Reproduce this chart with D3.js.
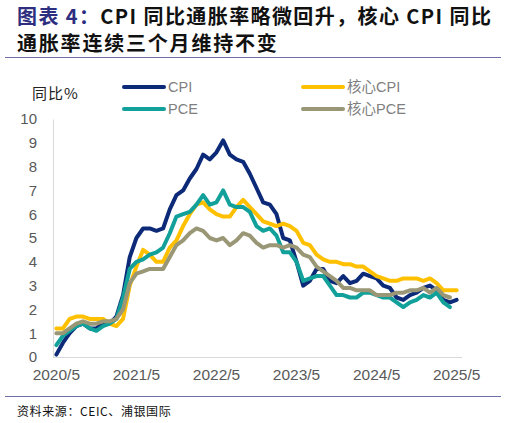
<!DOCTYPE html>
<html>
<head>
<meta charset="utf-8">
<script src="https://cdn.jsdelivr.net/npm/d3@7"></script>
<style>
  html, body { margin: 0; padding: 0; background: #fff; }
  svg { display: block; }
</style>
</head>
<body>
<svg id="chart"></svg>
<script>
// months on the category axis
const months = [
  "2020/5","2020/6","2020/7","2020/8","2020/9","2020/10","2020/11","2020/12",
  "2021/1","2021/2","2021/3","2021/4","2021/5","2021/6","2021/7","2021/8","2021/9","2021/10","2021/11","2021/12",
  "2022/1","2022/2","2022/3","2022/4","2022/5","2022/6","2022/7","2022/8","2022/9","2022/10","2022/11","2022/12",
  "2023/1","2023/2","2023/3","2023/4","2023/5","2023/6","2023/7","2023/8","2023/9","2023/10","2023/11","2023/12",
  "2024/1","2024/2","2024/3","2024/4","2024/5","2024/6","2024/7","2024/8","2024/9","2024/10","2024/11","2024/12",
  "2025/1","2025/2","2025/3","2025/4","2025/5"
];
const xTickLabels = ["2020/5","2021/5","2022/5","2023/5","2024/5","2025/5"];
const yTicks = [0,1,2,3,4,5,6,7,8,9,10];

// YoY %
const cpi = [
  0.1,0.6,1.0,1.3,1.4,1.2,1.2,1.4,
  1.4,1.7,2.6,4.2,5.0,5.4,5.4,5.3,5.4,6.2,6.8,7.0,
  7.5,7.9,8.5,8.3,8.6,9.1,8.5,8.3,8.2,7.7,7.1,6.5,
  6.4,6.0,5.0,4.9,4.0,3.0,3.2,3.7,3.7,3.2,3.1,3.4,
  3.1,3.2,3.5,3.4,3.3,3.0,2.9,2.5,2.4,2.6,2.7,2.9,
  3.0,2.8,2.4,2.3,2.4
];
const coreCpi = [
  1.2,1.2,1.6,1.7,1.7,1.6,1.6,1.6,
  1.4,1.3,1.6,3.0,3.8,4.5,4.3,4.0,4.0,4.6,4.9,5.5,
  6.0,6.4,6.5,6.2,6.0,5.9,5.9,6.3,6.6,6.3,6.0,5.7,
  5.6,5.5,5.6,5.5,5.3,4.8,4.7,4.3,4.1,4.0,4.0,3.9,
  3.9,3.8,3.8,3.6,3.4,3.3,3.2,3.2,3.3,3.3,3.3,3.2,
  3.3,3.1,2.8,2.8,2.8
];
const pce = [
  0.5,0.9,1.1,1.3,1.4,1.2,1.1,1.3,
  1.4,1.6,2.5,3.7,4.0,4.1,4.3,4.4,4.6,5.2,5.9,6.0,
  6.1,6.4,6.8,6.4,6.5,7.0,6.4,6.3,6.3,6.1,5.5,5.3,
  5.4,5.1,4.4,4.4,4.0,3.2,3.3,3.4,3.4,3.0,2.6,2.6,
  2.5,2.5,2.7,2.7,2.6,2.5,2.5,2.3,2.1,2.3,2.4,2.6,
  2.5,2.7,2.3,2.1
];
const corePce = [
  1.0,1.0,1.2,1.4,1.5,1.4,1.4,1.5,
  1.5,1.6,2.0,3.1,3.5,3.6,3.7,3.7,3.7,4.2,4.7,4.9,
  5.2,5.4,5.3,5.0,4.9,5.0,4.7,4.9,5.2,5.1,4.8,4.6,
  4.7,4.7,4.6,4.7,4.6,4.3,4.2,3.8,3.6,3.4,3.2,2.9,
  2.9,2.8,2.8,2.8,2.6,2.6,2.6,2.7,2.7,2.8,2.8,2.9,
  2.7,2.9,2.6,2.5
];

const seriesNames = ["CPI","核心CPI","PCE","核心PCE"];
const seriesValues = [cpi, coreCpi, pce, corePce];
const seriesColors = ["#0d2a78","#ffc000","#12a19a","#999775"];

const width = 506;
const height = 423;

const svg = d3.select("#chart")
  .attr("width", width)
  .attr("height", height)
  .attr("viewBox", `0 0 ${width} ${height}`);

const cjk = "'Noto Sans CJK SC', 'Noto Sans', sans-serif";
const latin = "'Liberation Sans', 'Noto Sans CJK SC', sans-serif";

// title
const title = svg.append("text")
  .attr("x", 17)
  .attr("y", 24)
  .style("font-family", cjk)
  .style("font-weight", 700)
  .style("font-size", "20px")
  .style("letter-spacing", "1.4px");
title.append("tspan").attr("fill", "#2e2e80").text("图表 4：");
title.append("tspan").attr("fill", "#111").text("CPI 同比通胀率略微回升，核心 CPI 同比");

svg.append("text")
  .attr("x", 17)
  .attr("y", 51)
  .attr("fill", "#111")
  .style("font-family", cjk)
  .style("font-weight", 700)
  .style("font-size", "20px")
  .style("letter-spacing", "1.8px")
  .text("通胀率连续三个月维持不变");

// rules top and bottom
svg.append("line")
  .attr("x1", 5).attr("x2", 501)
  .attr("y1", 57.5).attr("y2", 57.5)
  .attr("stroke", "#6e6ea8").attr("stroke-width", 1);
svg.append("line")
  .attr("x1", 5).attr("x2", 501)
  .attr("y1", 396.5).attr("y2", 396.5)
  .attr("stroke", "#6e6ea8").attr("stroke-width", 1);

// source
svg.append("text")
  .attr("x", 17)
  .attr("y", 416)
  .attr("fill", "#111")
  .style("font-family", cjk)
  .style("font-size", "12px")
  .style("letter-spacing", "0.6px")
  .text("资料来源：CEIC、浦银国际");

// scales
const x = d3.scaleBand()
  .domain(months)
  .range([53, 460]);

const y = d3.scaleLinear()
  .domain([0, 10])
  .range([357, 119]);

const cx = d => x(d) + x.bandwidth() / 2;

// y axis
const yAxis = svg.append("g")
  .attr("transform", "translate(53,0)")
  .call(d3.axisLeft(y).tickValues(yTicks).tickSize(0).tickPadding(16).tickFormat(d3.format("d")));
yAxis.select(".domain").attr("stroke", "#d9d9d9");
yAxis.selectAll("text")
  .attr("fill", "#595959")
  .style("font-family", latin)
  .style("font-size", "15px");

// x axis
const xAxis = svg.append("g")
  .attr("transform", "translate(0,357)")
  .call(d3.axisBottom(x).tickValues(xTickLabels).tickSize(0).tickPadding(12));
xAxis.select(".domain").attr("stroke", "#d9d9d9").attr("d", "M53,0.5H462");
xAxis.selectAll("text")
  .attr("fill", "#595959")
  .style("font-family", latin)
  .style("font-size", "15.5px");

// y-axis title
svg.append("text")
  .attr("x", 32)
  .attr("y", 99)
  .attr("fill", "#222")
  .style("font-family", cjk)
  .style("font-size", "15px")
  .style("letter-spacing", "1px")
  .text("同比%");

// lines
const line = d3.line()
  .x((d, i) => cx(months[i]))
  .y(d => y(d));

svg.append("g")
  .selectAll("path")
  .data(seriesValues)
  .join("path")
  .attr("d", d => line(d))
  .attr("fill", "none")
  .attr("stroke", (d, i) => seriesColors[i])
  .attr("stroke-width", 4)
  .attr("stroke-linejoin", "round")
  .attr("stroke-linecap", "round");

// legend
const legendPos = [
  { x: 124, y: 87 },
  { x: 303, y: 87 },
  { x: 124, y: 109 },
  { x: 303, y: 109 }
];
const legend = svg.append("g")
  .selectAll("g")
  .data(seriesNames)
  .join("g")
  .attr("transform", (d, i) => `translate(${legendPos[i].x},${legendPos[i].y})`);
legend.append("line")
  .attr("x1", 0).attr("x2", 40)
  .attr("stroke", (d, i) => seriesColors[i])
  .attr("stroke-width", 4)
  .attr("stroke-linecap", "round");
legend.append("text")
  .attr("x", 44)
  .attr("dy", "0.35em")
  .attr("fill", "#7f7f7f")
  .style("font-family", latin)
  .style("font-size", "14.5px")
  .text(d => d);
</script>
</body>
</html>
